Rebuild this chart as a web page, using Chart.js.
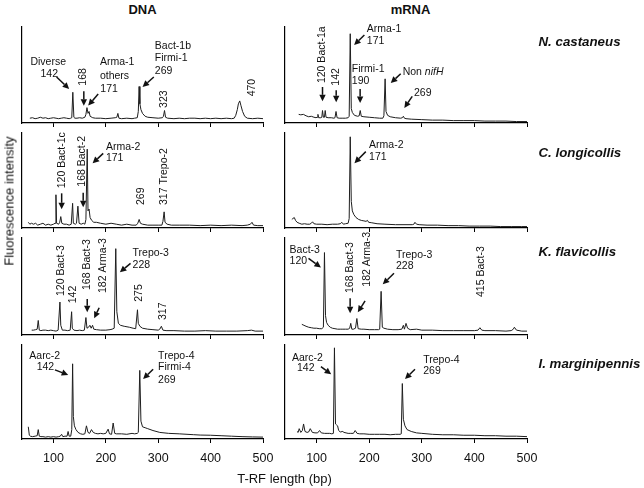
<!DOCTYPE html>
<html><head><meta charset="utf-8">
<script src="https://cdn.jsdelivr.net/npm/chart.js@4"></script>
<style>
html,body{margin:0;padding:0;background:#fff;}
body{width:644px;height:488px;position:relative;overflow:hidden;font-family:"Liberation Sans",Arial,sans-serif;color:#111;}
.t{position:absolute;white-space:nowrap;line-height:1;}
canvas{position:absolute;}
</style></head><body>
<script>
// ---------- data ----------
const X_TICKS = [100, 200, 300, 400, 500];
const X_MIN = 40, X_MAX = 500;
const COLUMN_TITLES = ['DNA', 'mRNA'];
const SPECIES = ['N. castaneus', 'C. longicollis', 'K. flavicollis', 'I. marginipennis'];
const X_TITLE = 'T-RF length (bp)';
const Y_TITLE = 'Fluorescence intensity';

// N. castaneus DNA
const dnaNcBp = [55,60,65,70,75,80,85,90,95,100, 105,110,115,120,125,130,133,135,137,139, 141,145,150,155,160,162,164,166,168,170, 175,180,190,200,210,218,221,223,225,230, 240,250,255,260,262,263.5,265,267,270,275, 280,290,300,308,310,312,314,318,330,340, 350,360,370,380,390,400,410,420,430,440, 445,448,451,453,455.6,458,461,465,470,480, 490,500];
const dnaNcInt = [5,5.5,4.5,5,6,5,5.5,4.5,5,5.5, 5,4.5,5,5.5,5,4.5,5,5.5,32,6, 5,5,5.5,5,6,9,16,10,12,7, 5.5,5,5,4.5,5,5.5,6,10,5,4.5, 5,4.5,5,5.5,12,38,20,14,10,7, 6,5.5,5,5.5,7,13,6,5,4.5,5, 4.5,5,5,4.5,5,4.5,5,4.5,5,4.5, 5,8,14,20,23,18,12,7,5,4.5, 5,4.5];
// N. castaneus mRNA
const rnaNcBp = [66,70,75,80,85,90,95,99,101,102.6, 104,108,110,111.3,113,115,116.4,118,122,128, 133,135,137,139,143,150,155,160,162,164, 166,168,172,178,181,183,185,190,200,210, 220,226,228,230.3,232,235,240,250,260,263, 265,267,270,280,300,320,340,360,380,400, 420,440,460,480,500];
const rnaNcInt = [9,8.5,9,7.5,6.5,7,6,5.5,6,9, 5.5,5.5,6,13,6,6,13,6,5.5,5.5, 5,5.5,12,5.5,5,5,5,5.5,7,93, 15,11,8,7,7.5,13,7,6.5,6,5.5, 5,5,7.5,46,12,8,6.5,5.5,5,5.5, 7,5,4.5,4,3.5,3,3,2.5,2.5,2.5, 2,2,2,1.5,1.5];
// C. longicollis DNA
const dnaClBp = [52,55,58,62,66,70,75,80,85,90, 95,100,103,104.8,106,110,112,114,116,120, 125,130,134,136.6,138,142,144,146.7,149,153, 157,160,162,164.5,166,168,170,173,177,182, 190,200,210,220,230,240,250,258,261,263.6, 266,270,280,290,300,307,309,311.3,313,317, 325,340,360,380,400,420,440,460,470,476, 479,482,490,500];
const dnaClInt = [6,4,5,4,5,3,4,5,3,4, 3,4,5,35,5,4,6,12,5,4, 4,3,4,26,5,4,5,23,5,4, 5,4,9,83,18,20,11,8,6,6, 5,4,5,4,3,4,3,3,5,9, 5,4,3,3,3,3,7,17,6,4, 3,3,3,2.5,3,2.5,3,2.5,3,4, 6,3,2.5,2.5];
// C. longicollis mRNA
const rnaClBp = [53,55,57.7,60,63,67,72,77,82,87, 90,92.4,95,100,110,120,130,140,145,148, 151,155,160,162,164,166,168,171,175,180, 185,190,194,196.8,199,205,215,230,250,270, 282,285,287,290,295,310,330,350,370,390, 410,430,450,470,490,500];
const rnaClInt = [9,10,11,8,6,5,4,4.5,4,4, 5,6.5,4.5,4,4,3.5,4,4,4.5,6, 4,4.5,5,10,96,28,18,14,11,9, 8,7.5,7,8,6,5.5,4.5,4,3.5,3.5, 3.5,4,6,4,3.5,3,3,2.5,2.5,2, 2,2,1.5,1.5,1.5,1.5];
// K. flavicollis DNA
const dnaKfBp = [58.5,62,66,69,71,73,76,80,85,90, 95,100,105,109,112.4,114,117,122,127,132, 134.7,136,139,145,150,155,159,162,164,167, 169.6,172,174.7,177,182,190,200,208,212,216, 219,221,224,228,235,245,252,257,260.4,262, 265,270,280,290,300,303,306,309,315,330, 350,370,390,410,430,450,470,478,485,500];
const dnaKfInt = [5,5,5.5,6,15,5,4.5,5,5,4.5, 5,4.5,4,5,34,10,5,5,4.5,5, 24,7,5,4.5,5,4.5,5,18,7,8, 10,7,10,6,5.5,5,5,5.5,6,7, 89,24,12,10,9,8,7,6.5,26,12, 9,7,6,5.5,5,6,9,5,4.5,4.5, 4,4,4.5,4,4,4,4.5,5,4,4];
// K. flavicollis mRNA
const rnaKfBp = [72,76,80,85,90,95,100,105,110,113, 115,117,119,122,126,130,135,140,145,150, 155,160,163,165,167,170,174,176.6,179,185, 190,200,210,218,220,222.7,225,228,235,245, 255,262,265,267,270,273,278,290,300,320, 340,360,380,400,407,410.5,414,420,440,460, 470,474,476,480,490,500];
const rnaKfInt = [11,10,9,8,7.5,7,7,6.5,6.5,8, 85,20,13,10,8,7,6.5,6,6,6, 6,6,7,12,6,6,7,17,6.5,6, 6,5.5,5.5,5.5,6,45,8,7,6,5.5, 5.5,6,10,6,12,7,5.5,6,5,5, 4.5,4.5,4.5,4.5,5,7.5,5,4.5,4.5,4, 4.5,6,8,5,4,4];
// I. marginipennis DNA
const dnaImBp = [52,54,56,60,65,69,71,73,76,80, 85,90,95,100,105,110,113,115.6,118,122, 126,128,130,133,135,136.6,138,140,143,147, 152,156,160,163,166,169,172.6,176,180,185, 190,195,200,204.4,207,211,214,217,220,230, 240,250,255,260,262,264.8,267,270,275,280, 290,303,320,340,367,380,400,420,440,460, 480,500];
const dnaImInt = [13,4,3,2.5,3,3.5,10,3,2.5,2.5, 2,2.5,2,2.5,2,2.5,3,5,2.5,3, 3,8,3,3,10,80,24,14,10,7, 5.5,5,5.5,14,7,6,10,7,6,5.5, 6,5.5,6,10.5,5.5,5,17,6,5.5,5.5, 5,6,5.5,6,7,73,19,13,12,11, 9,7,6,5.5,4.6,4.2,4,3.5,3,2.5, 2.2,2];
// I. marginipennis mRNA
const rnaImBp = [62.8,65,67,70,73,75.3,78,82,85,88, 92,97,102,105.7,109,115,120,125,129,132, 134,136,138,140,142,145,150,152,156,160, 165,170,173.4,177,182,190,200,210,220,230, 240,250,255,259,261,263,265,268,272,280, 290,300,320,340,360,380,400,420,440,460, 480,500];
const rnaImInt = [8,7,11,7,9,16,8,7,7.5,11, 7,6.5,6.5,9,6.5,6,6,6,5.5,6, 97,16,15,14,9,7.5,8,7,6.5,6, 6,6,9,6,5.5,5.5,5,5,5,5, 4.5,5,5,5,5.5,59,21,14,10,8, 6.5,6,5,4.5,4.5,4,4,3.5,3.5,3, 3,2.5];

// ---------- annotations (data coordinates: bp, intensity) ----------
const T = (text, x, y, align) => ({kind:'t', text, x, y, align: align || 'left'});
const R = (text, x, y) => ({kind:'r', text, x, y});
const A = (x1, y1, x2, y2) => ({kind:'a', x1, y1, x2, y2});
const P = (parts, x, y) => ({kind:'p', parts, x, y});

const annots = [
  [T('Diverse',90,63,'center'), T('142',92,51.3,'center'), A(106,48,130,35.4),
   R('168',155.7,38.9), A(158,33,158,18),
   T('Arma-1',188.7,63), T('others',188.7,49.2), T('171',189.5,35), A(185.4,30.3,166.4,18.1),
   T('Bact-1b',293.5,79.6), T('Firmi-1',293.5,67.1), T('269',293.5,54.4), A(291.6,47.9,270.1,37.5),
   R('323',310.7,15.7), R('470',479,27.8)],
  [R('120 Bact-1a',111.3,41.6), A(111.3,37.5,111.3,22.6),
   R('142',137.3,38.9), A(137.3,34,137.3,21.5),
   T('Arma-1',195.5,97.6), T('171',195.5,85.8), A(190.9,91.7,171.4,81.3),
   T('Firmi-1',167,56.2), T('190',167,43.3), A(182.8,35.4,182.8,20.9),
   P([['Non ',''],['nifH','italic ']],263.7,53), A(259.9,51.3,241,41.6),
   T('269',285.2,31.3), A(281.9,27.8,266.8,15.7)],
  [R('120 Bact-1c',115.7,41.8), A(115.7,36.5,115.7,19.7),
   R('168 Bact-2',154.9,43.5), A(156.8,37.2,156.8,21.8),
   T('Arma-2',200.1,85.6), T('171',200.1,73.4), A(195,78.6,174.8,68.1),
   R('269',266.8,24.2), R('317 Trepo-2',311.2,24.2)],
  [T('Arma-2',199.8,87.4), T('171',199.8,74.4), A(193.6,80.4,172,68.2)],
  [R('120 Bact-3',114.3,40.2), R('142',136.6,32.7),
   R('168 Bact-3',164.5,46.4), A(164.5,37.1,164.5,23.4),
   R('182 Arma-3',195,43.3), A(187.3,28.1,177.8,17.2),
   T('Trepo-3',251,84.2), T('228',251,72.2), A(247.2,73.9,226.8,64.6),
   R('275',263.6,34.3), R('317',309.3,15.5)],
  [T('Bact-3',48.7,87.6), T('120',48.7,76.3), A(84.7,79,108.3,69.7),
   R('168 Bact-3',163.8,43.3), A(163.8,37.8,163.8,22.4),
   R('182 Arma-3',195.5,49.8), A(192.2,35.1,178.4,23.4),
   T('Trepo-3',251,82.5), T('228',251,71.4), A(247.2,63.6,225.8,52.3),
   R('415 Bact-3',413.5,39.2)],
  [T('Aarc-2',53.9,88.7), T('142',68,76.4), A(102.9,73.5,128.2,68.2),
   T('Trepo-4',299.8,88.7), T('Firmi-4',299.8,76.4), T('269',299.8,63), A(290.3,74.3,271.2,63.7)],
  [T('Aarc-2',53.3,85.9), T('142',62.8,75.3), A(108.3,77,127.8,69),
   T('Trepo-4',302.8,83.4), T('269',302.8,71.7), A(287.1,74.3,268.1,63.7)]
];

const traces = [
  [dnaNcBp, dnaNcInt], [rnaNcBp, rnaNcInt],
  [dnaClBp, dnaClInt], [rnaClBp, rnaClInt],
  [dnaKfBp, dnaKfInt], [rnaKfBp, rnaKfInt],
  [dnaImBp, dnaImInt], [rnaImBp, rnaImInt]
];

// ---------- layout ----------
const FONT = '"Liberation Sans", Arial, sans-serif';
const INK = '#111';
const COLS = [{left:22, right:263}, {left:285, right:527}];
const ROWS = [{top:27, bottom:123}, {top:133, bottom:228}, {top:238, bottom:335}, {top:345, bottom:439}];
const PADL = 6, PADR = 14, PADT = 8;

function addText(text, x, y, css, tf) {
  const d = document.createElement('div');
  d.className = 't';
  d.textContent = text;
  d.style.cssText += `left:${x}px;top:${y}px;${css}`;
  d.style.transform = tf || 'translate(-50%,-50%)';
  document.body.appendChild(d);
}

function drawArrow(ctx, x1, y1, x2, y2) {
  const ang = Math.atan2(y2 - y1, x2 - x1), L = 6.5, W = 3.2;
  const bx = x2 - L * Math.cos(ang), by = y2 - L * Math.sin(ang);
  ctx.lineWidth = 1.5;
  ctx.beginPath(); ctx.moveTo(x1, y1); ctx.lineTo(bx, by); ctx.stroke();
  ctx.beginPath(); ctx.moveTo(x2, y2);
  ctx.lineTo(bx + W * Math.sin(ang), by - W * Math.cos(ang));
  ctx.lineTo(bx - W * Math.sin(ang), by + W * Math.cos(ang));
  ctx.closePath(); ctx.fill();
}

function annotPlugin(items) {
  return {
    id: 'annot',
    afterDatasetsDraw(chart) {
      const ctx = chart.ctx, xs = chart.scales.x, ys = chart.scales.y;
      ctx.save();
      ctx.fillStyle = INK; ctx.strokeStyle = INK;
      ctx.font = `10.5px ${FONT}`;
      ctx.textBaseline = 'middle';
      for (const it of items) {
        if (it.kind === 'a') {
          drawArrow(ctx, xs.getPixelForValue(it.x1), ys.getPixelForValue(it.y1),
                         xs.getPixelForValue(it.x2), ys.getPixelForValue(it.y2));
          continue;
        }
        const px = xs.getPixelForValue(it.x), py = ys.getPixelForValue(it.y);
        if (it.kind === 't') {
          ctx.textAlign = it.align; ctx.fillText(it.text, px, py);
        } else if (it.kind === 'r') {
          ctx.save(); ctx.translate(px, py); ctx.rotate(-Math.PI / 2);
          ctx.textAlign = 'left'; ctx.fillText(it.text, 0, 0); ctx.restore();
        } else if (it.kind === 'p') {
          let cx = px; ctx.textAlign = 'left';
          for (const [s, st] of it.parts) {
            ctx.font = `${st}10.5px ${FONT}`;
            ctx.fillText(s, cx, py); cx += ctx.measureText(s).width;
          }
          ctx.font = `10.5px ${FONT}`;
        }
      }
      ctx.restore();
    }
  };
}

for (let r = 0; r < 4; r++) {
  for (let c = 0; c < 2; c++) {
    const idx = r * 2 + c, col = COLS[c], row = ROWS[r];
    const isBottom = r === 3;
    const padB = isBottom ? 32 : 8;
    const cv = document.createElement('canvas');
    const w = (col.right - col.left) + PADL + PADR;
    const h = (row.bottom - row.top) + PADT + padB;
    cv.width = w; cv.height = h;
    cv.style.left = (col.left - PADL) + 'px';
    cv.style.top = (row.top - PADT) + 'px';
    cv.style.width = w + 'px'; cv.style.height = h + 'px';
    document.body.appendChild(cv);
    const [bp, iv] = traces[idx];
    new Chart(cv, {
      type: 'line',
      data: { datasets: [{
        data: bp.map((b, i) => ({ x: b, y: iv[i] })),
        borderColor: '#1e1e1e', borderWidth: 1, pointRadius: 0, tension: 0, fill: false
      }]},
      options: {
        responsive: false, animation: false, devicePixelRatio: 1,
        layout: { padding: { left: PADL, right: PADR, top: PADT, bottom: 0 } },
        plugins: { legend: { display: false }, tooltip: { enabled: false } },
        scales: {
          x: {
            type: 'linear', min: X_MIN, max: X_MAX,
            afterBuildTicks: s => { s.ticks = X_TICKS.map(v => ({ value: v })); },
            afterFit: s => { s.height = padB; s.paddingLeft = 0; s.paddingRight = 0; },
            grid: { display: true, drawOnChartArea: false, drawTicks: true, tickLength: 4, color: '#000', lineWidth: 1 },
            border: { display: true, color: '#000', width: 1.2 },
            ticks: { display: isBottom, font: { size: 12.5, family: FONT }, color: INK, padding: 8, maxRotation: 0, autoSkip: false }
          },
          y: {
            min: 0, max: 100,
            afterFit: s => { s.width = 0; s.paddingTop = 0; s.paddingBottom = 0; },
            grid: { display: true, drawOnChartArea: false, drawTicks: false },
            border: { display: true, color: '#000', width: 1.2 },
            ticks: { display: false }
          }
        }
      },
      plugins: [annotPlugin(annots[idx])]
    });
  }
}

// titles and labels (HTML text)
addText(COLUMN_TITLES[0], 142.5, 9, 'font-weight:bold;font-size:13px;');
addText(COLUMN_TITLES[1], 410.5, 9, 'font-weight:bold;font-size:13px;');
const speciesY = [42, 153, 252, 364];
SPECIES.forEach((s, i) => addText(s, 538.5, speciesY[i], 'font-weight:bold;font-style:italic;font-size:13.3px;', 'translate(0,-50%)'));
addText(X_TITLE, 284.5, 478, 'font-size:13px;');
addText(Y_TITLE, 9, 201, 'font-size:13px;color:#111;', 'translate(-50%,-50%) rotate(-90deg)');
</script>
</body></html>
